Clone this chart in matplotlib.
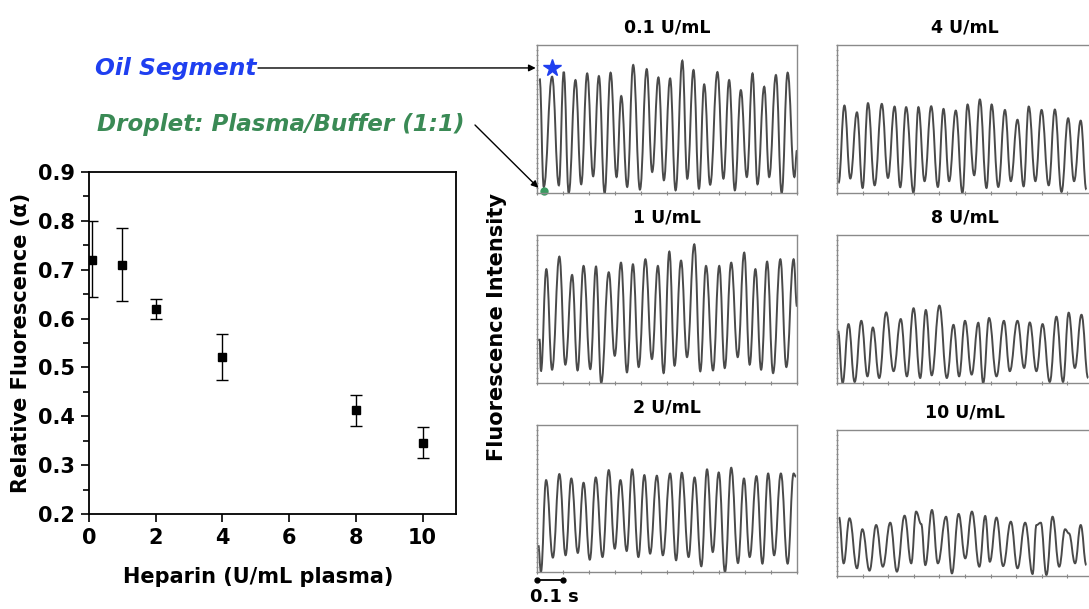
import matplotlib
matplotlib.use("Agg")
import matplotlib.pyplot as plt
from matplotlib.path import Path
from matplotlib.patches import PathPatch
import numpy as np

plt.rcParams['font.family'] = ['DejaVu Sans']

# left plot: relative fluorescence vs heparin
heparin = [0.1, 1, 2, 4, 8, 10]
rel_fluor = [0.720, 0.710, 0.620, 0.522, 0.412, 0.346]
err_low = [0.075, 0.075, 0.020, 0.047, 0.032, 0.031]
err_high = [0.080, 0.075, 0.020, 0.046, 0.031, 0.032]

# traces: peak / trough times (s) and intensities (a.u.)
t_01 = [0.010, 0.026, 0.058, 0.084, 0.103, 0.122, 0.148, 0.170, 0.193, 0.216, 0.238, 0.260, 0.283, 0.306,
        0.324, 0.347, 0.370, 0.396, 0.422, 0.443, 0.467, 0.488, 0.512, 0.533, 0.559, 0.578, 0.602, 0.623,
        0.643, 0.666, 0.694, 0.717, 0.739, 0.761, 0.784, 0.807, 0.829, 0.848, 0.874, 0.893, 0.919, 0.941,
        0.964, 0.990, 1.000]
v_01 = [0.774, 0.041, 0.786, 0.052, 0.819, 0.000, 0.763, 0.059, 0.808, 0.113, 0.790, 0.000, 0.813, 0.108,
        0.655, 0.041, 0.865, 0.023, 0.837, 0.142, 0.781, 0.086, 0.774, 0.018, 0.894, 0.097, 0.831, 0.029,
        0.734, 0.056, 0.817, 0.097, 0.763, 0.018, 0.695, 0.108, 0.808, 0.059, 0.718, 0.108, 0.797, 0.000,
        0.813, 0.108, 0.289]

t_1 = [0.003, 0.010, 0.015, 0.036, 0.058, 0.086, 0.109, 0.135, 0.156, 0.179, 0.205, 0.227, 0.247, 0.276,
       0.299, 0.323, 0.346, 0.369, 0.391, 0.417, 0.442, 0.465, 0.487, 0.509, 0.529, 0.554, 0.577, 0.605,
       0.628, 0.650, 0.677, 0.701, 0.722, 0.747, 0.772, 0.797, 0.818, 0.840, 0.862, 0.885, 0.908, 0.936,
       0.959, 0.987, 1.000]
v_1 = [0.292, 0.292, 0.079, 0.769, 0.090, 0.854, 0.124, 0.730, 0.085, 0.791, 0.094, 0.787, 0.000, 0.748,
       0.184, 0.813, 0.072, 0.802, 0.108, 0.836, 0.162, 0.791, 0.067, 0.888, 0.117, 0.827, 0.175, 0.937,
       0.079, 0.791, 0.085, 0.791, 0.101, 0.813, 0.175, 0.881, 0.124, 0.769, 0.090, 0.820, 0.067, 0.836,
       0.108, 0.836, 0.517]

t_2 = [0.005, 0.015, 0.035, 0.061, 0.086, 0.110, 0.132, 0.157, 0.179, 0.203, 0.226, 0.252, 0.276, 0.299,
       0.321, 0.345, 0.366, 0.390, 0.413, 0.435, 0.461, 0.484, 0.512, 0.535, 0.557, 0.583, 0.606, 0.632,
       0.654, 0.676, 0.699, 0.723, 0.747, 0.773, 0.796, 0.818, 0.844, 0.867, 0.889, 0.912, 0.938, 0.964,
       0.987, 0.996]
v_2 = [0.182, 0.000, 0.625, 0.098, 0.666, 0.114, 0.636, 0.130, 0.607, 0.084, 0.643, 0.102, 0.693, 0.159,
       0.625, 0.143, 0.698, 0.102, 0.659, 0.125, 0.655, 0.114, 0.670, 0.080, 0.675, 0.102, 0.643, 0.039,
       0.698, 0.136, 0.677, 0.000, 0.709, 0.061, 0.636, 0.102, 0.652, 0.057, 0.670, 0.114, 0.670, 0.057,
       0.670, 0.648]

t_4 = [0.006, 0.029, 0.052, 0.078, 0.100, 0.121, 0.147, 0.175, 0.199, 0.225, 0.247, 0.270, 0.299, 0.318,
       0.342, 0.368, 0.394, 0.416, 0.438, 0.464, 0.490, 0.510, 0.536, 0.558, 0.584, 0.604, 0.630, 0.656,
       0.679, 0.705, 0.729, 0.749, 0.775, 0.799, 0.827, 0.851, 0.877, 0.903, 0.926, 0.952, 0.974]
v_4 = [0.068, 0.591, 0.098, 0.545, 0.034, 0.607, 0.052, 0.602, 0.102, 0.584, 0.039, 0.580, 0.000, 0.580,
       0.080, 0.586, 0.041, 0.568, 0.080, 0.557, 0.000, 0.598, 0.120, 0.632, 0.034, 0.598, 0.041, 0.561,
       0.080, 0.495, 0.045, 0.584, 0.080, 0.561, 0.052, 0.564, 0.007, 0.505, 0.080, 0.489, 0.023]

t_8 = [0.004, 0.022, 0.045, 0.069, 0.095, 0.119, 0.140, 0.165, 0.192, 0.221, 0.249, 0.273, 0.299, 0.325,
       0.347, 0.370, 0.400, 0.429, 0.455, 0.477, 0.500, 0.526, 0.552, 0.571, 0.594, 0.623, 0.652, 0.675,
       0.705, 0.731, 0.753, 0.779, 0.803, 0.831, 0.857, 0.883, 0.905, 0.929, 0.955, 0.981]
v_8 = [0.352, 0.000, 0.398, 0.007, 0.420, 0.045, 0.375, 0.034, 0.477, 0.080, 0.432, 0.045, 0.505, 0.034,
       0.493, 0.052, 0.523, 0.034, 0.393, 0.045, 0.420, 0.057, 0.407, 0.000, 0.439, 0.045, 0.420, 0.080,
       0.420, 0.102, 0.409, 0.080, 0.398, 0.007, 0.448, 0.007, 0.475, 0.102, 0.461, 0.034]

t_10 = [0.008, 0.026, 0.049, 0.078, 0.099, 0.127, 0.153, 0.179, 0.208, 0.234, 0.264, 0.290, 0.309, 0.329,
        0.345, 0.371, 0.394, 0.426, 0.449, 0.475, 0.501, 0.527, 0.556, 0.579, 0.597, 0.623, 0.649, 0.679,
        0.705, 0.735, 0.764, 0.779, 0.796, 0.818, 0.842, 0.868, 0.891, 0.906, 0.930, 0.952, 0.974]
v_10 = [0.402, 0.087, 0.395, 0.053, 0.320, 0.037, 0.349, 0.064, 0.365, 0.030, 0.413, 0.087, 0.441, 0.356,
        0.075, 0.452, 0.087, 0.406, 0.018, 0.425, 0.121, 0.441, 0.064, 0.411, 0.098, 0.400, 0.068, 0.372,
        0.053, 0.365, 0.014, 0.349, 0.365, 0.007, 0.406, 0.064, 0.320, 0.292, 0.087, 0.349, 0.075]

panel_titles = ['0.1 U/mL', '4 U/mL', '1 U/mL', '8 U/mL', '2 U/mL', '10 U/mL']
panel_t = [t_01, t_4, t_1, t_8, t_2, t_10]
panel_v = [v_01, v_4, v_1, v_8, v_2, v_10]

W, H = 1089, 609
fig = plt.figure(figsize=(W / 100, H / 100), dpi=100)

def box(l, t, r, b):
    return [l / W, 1 - b / H, (r - l) / W, (b - t) / H]

# left scatter
ax = fig.add_axes(box(89, 172, 456, 514))
ax.errorbar(heparin, rel_fluor, yerr=[err_low, err_high], fmt='s', color='black',
            ms=6, elinewidth=1, capsize=4, capthick=1)
ax.set_xlim(0, 11)
ax.set_ylim(0.2, 0.9)
ax.set_xticks([0, 2, 4, 6, 8, 10])
ax.set_yticks(np.arange(0.2, 0.91, 0.1))
ax.set_yticks(np.arange(0.25, 0.9, 0.1), minor=True)
ax.tick_params(axis='both', which='major', length=6, width=1.2, labelsize=15, pad=4)
ax.tick_params(axis='y', which='minor', length=4, width=1.2)
for lab in ax.get_xticklabels() + ax.get_yticklabels():
    lab.set_fontweight('bold')
for s in ax.spines.values():
    s.set_linewidth(1.3)
ax.set_xlabel('Heparin (U/mL plasma)', fontsize=15, fontweight='bold')
ax.xaxis.set_label_coords(0.46, -0.155)
ax.set_ylabel('Relative Fluorescence (α)', fontsize=15, fontweight='bold', labelpad=5)

# trace panels
boxes = [box(537, 45, 797, 193), box(837, 45, 1093, 193),
         box(537, 235, 797, 383), box(837, 235, 1093, 383),
         box(537, 425, 797, 572), box(837, 430, 1093, 576)]

def smooth_path(xs, ys, k=0.42):
    verts = [(xs[0], ys[0])]
    codes = [Path.MOVETO]
    for i in range(len(xs) - 1):
        dx = xs[i + 1] - xs[i]
        verts += [(xs[i] + k * dx, ys[i]), (xs[i + 1] - k * dx, ys[i + 1]), (xs[i + 1], ys[i + 1])]
        codes += [Path.CURVE4] * 3
    return Path(verts, codes)

panels = []
for b, title, ts, vs in zip(boxes, panel_titles, panel_t, panel_v):
    p = fig.add_axes(b)
    p.add_patch(PathPatch(smooth_path(ts, vs), fill=False, edgecolor='#4a4a4a', lw=1.4))
    p.set_xlim(0, 1)
    p.set_ylim(0, 1)
    p.set_xticks(np.arange(0, 1.01, 0.1))
    p.set_yticks(np.linspace(0, 1, 31))
    p.tick_params(axis='x', length=3, direction='inout', color='#888888', labelbottom=False)
    p.tick_params(axis='y', length=2, direction='inout', color='#999999', labelleft=False)
    for s in p.spines.values():
        s.set_color('#8a8a8a')
        s.set_linewidth(1)
    p.set_title(title, fontsize=12.5, fontweight='bold', pad=9)
    panels.append(p)

fig.text(497 / W, 1 - 327 / H, 'Fluorescence Intensity', rotation=90, ha='center', va='center',
         fontsize=15, fontweight='bold')

# markers for oil segment / droplet
p0 = panels[0]
p0.plot([0.058], [0.842], marker='*', color='#1f3ff0', ms=13, clip_on=False)
p0.plot([0.028], [0.012], marker='o', color='#3a9a60', ms=5, clip_on=False)

fig.text(95 / W, 1 - 68 / H, 'Oil Segment', color='#1f3ff0', fontsize=16.8, fontweight='bold',
         fontstyle='italic', va='center')
fig.text(97 / W, 1 - 125 / H, 'Droplet: Plasma/Buffer (1:1)', color='#3a8a55', fontsize=16.6,
         fontweight='bold', fontstyle='italic', va='center')
p0.annotate('', xy=(-0.005, 0.845), xycoords='axes fraction', xytext=(258 / W, 1 - 68 / H),
            textcoords='figure fraction', annotation_clip=False,
            arrowprops=dict(arrowstyle='-|>', color='black', lw=1, mutation_scale=10, shrinkA=0, shrinkB=0))
p0.annotate('', xy=(0.005, 0.035), xycoords='axes fraction', xytext=(475 / W, 1 - 125 / H),
            textcoords='figure fraction', annotation_clip=False,
            arrowprops=dict(arrowstyle='-|>', color='black', lw=1, mutation_scale=10, shrinkA=0, shrinkB=0))

# scale bar
p2 = panels[4]
tr = p2.get_xaxis_transform()
p2.plot([0, 0.1], [-0.055, -0.055], transform=tr, color='black', lw=1.3, marker='o', ms=3.5, clip_on=False)
p2.text(-0.025, -0.17, '0.1 s', transform=tr, fontsize=13, fontweight='bold', va='center', ha='left')

fig.savefig('out.png', dpi=100)
